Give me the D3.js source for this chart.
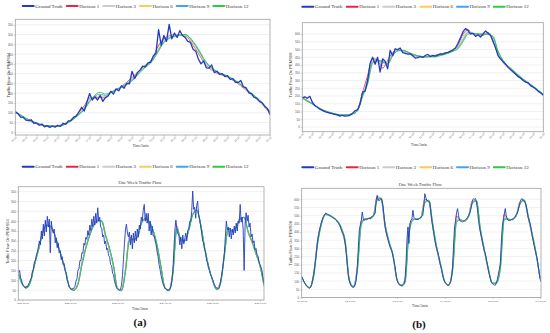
<!DOCTYPE html>
<html><head><meta charset="utf-8">
<script src="https://cdn.jsdelivr.net/npm/d3@7"></script>
<style>body{margin:0;background:#fff}svg{display:block}</style>
</head><body>
<svg id="chart" width="550" height="333"></svg>
<script>
// ---------- shared ----------
const seriesNames = ["Ground Truth","Horizon 1","Horizon 3","Horizon 6","Horizon 9","Horizon 12"];
const seriesColors = ["#1f3cc6","#e8264d","#cccccc","#ffc860","#45a2f5","#2ecc40"];
const hourTicks = [0,1,2,3,4,5,6,7,8,9,10,11,12,13,14,15,16,17,18,19,20,21,22,23,24];
const hourLabels = ["00:00","01:00","02:00","03:00","04:00","05:00","06:00","07:00","08:00","09:00","10:00","11:00","12:00","13:00","14:00","15:00","16:00","17:00","18:00","19:00","20:00","21:00","22:00","23:00","00:00"];
const yTicks04 = [0,50,100,150,200,250,300,350,400,450,500,550];
const yTicks08 = [0,50,100,150,200,250,300,350,400,450,500,550,600];
const weekTicks = [0,24,48,72,96,120];
const weekLabelsA = ["2/21 00:00","2/22 00:00","2/23 00:00","2/24 00:00","2/25 00:00","2/26 00:00"];
const weekLabelsB = ["7/1 00:00","7/2 00:00","7/3 00:00","7/4 00:00","7/5 00:00","7/6 00:00"];

// ---------- (a) top: one day PEMS04 (15-min ground truth) ----------
const dayGT04 = [105,95,78,76,62,60,64,46,48,36,42,28,34,25,32,26,36,30,46,40,
58,60,78,82,105,128,108,155,198,165,182,165,188,158,178,186,210,196,222,212,
238,225,250,248,312,275,305,318,338,335,355,358,390,405,525,445,495,465,552,478,
508,485,520,495,485,465,460,425,415,375,350,365,330,328,345,305,312,296,300,285,
290,270,275,255,255,265,232,228,202,198,178,175,158,152,132,122,90];
const dayKnots04 = [0,1,2,3,4,5,6,6.5,7,7.5,8,8.5,9,10,11,12,13,13.5,14,15,16,17,18,19,20,21,22,23,24];
const day04H1  = [103,67,44,31,33,56,102,135,175,176,178,176,202,234,280,332,385,445,478,498,492,425,342,303,282,248,203,158,98];
const day04H3  = [104,68,45,31,32,55,100,130,170,178,183,178,200,233,275,330,382,435,472,496,494,430,345,305,283,250,205,160,100];
const day04H6  = [105,70,46,32,32,53,97,125,165,180,188,182,203,232,272,327,378,428,468,495,497,437,350,307,285,252,207,162,102];
const day04H9  = [106,71,47,33,31,51,94,120,160,185,195,188,205,231,268,324,375,422,463,492,499,442,354,309,286,254,209,164,104];
const day04H12 = [107,72,48,33,30,49,90,115,155,190,205,195,205,230,263,320,370,415,458,490,500,447,358,311,288,256,211,166,106];

// ---------- (b) top: one day PEMS08 ----------
const dayGT08 = [188,195,185,198,160,138,128,115,108,100,95,90,86,82,78,70,76,71,72,76,
88,105,112,150,225,232,300,410,450,405,450,355,440,425,375,495,460,505,500,510,
480,475,470,472,460,445,448,455,450,462,468,455,462,458,465,472,470,478,482,490,
498,510,540,575,615,635,625,600,605,585,595,580,600,620,605,590,550,510,460,440,
420,405,385,370,355,340,325,315,300,290,285,265,258,245,230,220,205];
const dayKnots08 = [0,1,2,3,4,5,5.5,6,6.5,7,7.5,8,8.5,9,9.5,10,11,12,13,14,15,15.5,16,16.5,17,18,18.5,19,19.5,20,21,22,23,24];
const day08H1  = [190,152,108,86,74,88,112,222,330,440,435,380,430,480,500,490,465,450,460,474,495,525,600,625,600,592,610,565,465,418,358,302,258,208];
const day08H3  = [188,150,108,87,75,87,110,215,310,430,430,395,420,475,498,490,466,452,458,473,494,520,585,620,598,595,606,570,470,420,360,304,259,209];
const day08H6  = [187,150,110,88,76,86,108,205,295,425,425,410,415,470,495,492,468,453,456,470,492,515,570,615,600,597,603,575,480,425,362,306,261,210];
const day08H9  = [186,149,111,89,77,85,106,200,285,420,425,418,410,465,493,493,469,454,455,468,490,510,560,610,602,598,600,580,485,428,364,308,262,211];
const day08H12 = [185,148,112,90,78,84,104,195,275,410,430,425,405,460,490,495,470,455,452,465,488,505,550,600,603,600,598,585,490,430,366,310,263,212];

// ---------- (a) bottom: one week PEMS04 (30-min ground truth from -2h) ----------
const weekGT04 = [138,150,112,100,
80,72,66,60,70,66,82,88,104,110,148,152,196,200,230,245,270,300,280,350,310,385,325,405,345,425,370,410,240,400,360,340,360,290,315,265,290,240,250,205,220,180,185,150,135,100,88,68,
60,56,54,57,62,70,95,108,152,158,200,200,240,238,288,278,318,308,352,328,380,352,410,372,425,380,440,390,468,400,420,370,365,320,330,285,298,255,262,225,218,180,175,135,128,95,78,62,
55,52,50,53,75,125,205,285,355,385,340,320,345,280,330,260,340,290,350,300,360,320,380,360,420,400,455,485,400,440,390,440,350,400,330,375,325,325,300,280,245,220,180,155,125,102,82,70,
60,55,52,50,53,56,70,100,150,260,355,405,360,335,330,280,320,260,330,285,310,340,300,355,360,400,400,450,553,460,470,415,480,502,430,410,375,345,300,290,255,245,200,190,160,150,128,118,
105,90,78,68,60,57,55,62,90,119,150,190,238,320,400,355,368,320,365,310,360,330,375,340,390,350,400,390,485,395,420,360,150,390,443,400,430,370,390,320,335,290,300,255,262,230,225,195,
180,168,150,118,85];
const weekKnots04 = [-2,0,2,4,6,8,10,12,14,16,18,20,22,24,26,28,30,32,34,36,38,40,42,44,46,48,50,52,54,56,58,60,62,64,66,68,70,72,74,76,78,80,82,84,86,88,90,92,94,96,98,100,102,104,106,108,110,112,114,116,118,120,122];
const week04H1  = [135,80,66,98,185,255,340,380,372,335,272,205,132,62,55,85,188,268,332,382,405,398,322,255,168,60,52,158,318,305,318,392,415,395,350,272,162,64,52,150,375,302,300,358,438,455,380,262,168,106,60,90,235,360,350,372,415,418,342,292,232,172,88];
const week04H3  = [134,79,65,96,182,253,338,380,374,337,274,207,134,61,54,83,184,266,331,381,404,400,324,257,170,59,51,154,314,306,317,391,414,397,351,274,164,63,51,146,372,303,300,357,437,456,382,264,170,104,58,88,232,362,350,371,414,419,344,293,233,173,86];
const week04H6  = [133,78,63,94,179,251,337,379,375,338,275,208,135,60,52,81,181,265,330,380,403,401,326,258,171,58,49,150,310,307,316,389,413,398,352,276,166,61,49,142,368,305,299,355,435,457,384,266,172,102,56,85,228,364,349,370,413,420,346,295,235,174,80];
const week04H9  = [132,77,62,92,177,250,336,379,376,339,276,210,136,59,50,80,178,264,329,379,403,402,328,260,173,57,48,145,305,308,315,387,412,399,353,278,168,60,48,136,364,307,299,354,433,457,386,268,174,101,54,83,224,366,349,369,412,420,348,296,236,175,75];
const week04H12 = [130,76,60,90,175,250,335,378,377,340,278,212,138,58,48,78,175,262,328,378,402,402,330,262,175,56,46,140,300,310,315,385,410,400,355,280,170,58,46,130,360,310,298,352,430,458,388,270,175,100,52,80,220,370,348,368,410,420,350,298,238,176,70];

// ---------- (b) bottom: one week PEMS08 (30-min ground truth from 0h) ----------
const weekGT08 = [128,115,100,88,78,70,64,60,58,62,80,108,140,185,230,290,345,385,413,440,462,482,494,505,515,512,508,505,500,497,493,488,485,482,476,470,462,455,445,430,413,395,385,360,320,260,190,130,
100,82,70,64,62,65,80,110,185,300,410,441,470,522,480,470,478,472,480,482,485,480,492,495,500,505,515,590,624,595,590,600,604,590,553,490,431,400,375,350,330,310,295,280,250,220,187,140,
106,90,80,75,72,70,72,80,106,200,350,431,330,450,472,480,533,490,482,478,476,476,480,485,490,495,502,560,634,610,593,590,585,583,520,472,430,390,350,320,295,278,250,215,190,167,135,110,
96,88,80,75,74,85,96,130,187,330,431,470,520,543,500,472,468,465,461,465,470,475,482,490,500,512,530,560,593,604,600,604,583,540,472,430,400,370,340,310,280,268,230,200,167,140,115,95,
85,80,76,75,90,110,140,170,200,330,431,470,510,543,500,480,472,470,472,476,478,482,488,492,505,515,533,560,585,600,604,593,590,580,563,530,490,470,451,420,380,350,320,290,265,240,200,160,
116,96];
const weekKnots08 = [0,2,4,6,8,10,12,14,16,18,20,22,24,26,28,30,32,34,36,38,40,42,44,46,48,50,52,54,56,58,60,62,64,66,68,70,72,74,76,78,80,82,84,86,88,90,92,94,96,98,100,102,104,106,108,110,112,114,116,118,120];
const week08H1  = [128,78,58,145,350,460,512,500,485,462,412,318,100,63,190,468,478,485,500,615,598,430,330,250,106,72,110,418,480,476,490,598,585,430,295,190,96,74,190,498,468,470,500,592,582,400,280,167,85,90,205,508,472,478,505,584,590,490,380,265,116];
const week08H3  = [127,79,59,142,345,458,511,501,486,463,414,322,102,64,182,462,479,484,499,610,600,435,333,252,107,73,104,410,478,477,489,594,587,434,298,192,97,75,182,490,470,469,498,590,585,405,283,169,86,89,196,500,474,477,503,582,592,494,383,267,117];
const week08H6  = [126,80,60,136,338,455,509,502,487,465,418,328,105,66,175,455,480,483,497,604,603,440,336,255,108,74,98,400,476,478,488,588,590,440,302,196,98,76,175,480,472,468,496,585,588,410,287,172,87,88,188,490,476,476,501,578,594,498,387,270,118];
const week08H9  = [125,81,61,130,330,452,507,503,488,467,422,334,108,67,168,448,481,482,495,598,606,446,340,258,110,75,94,392,474,479,487,582,592,446,306,200,99,77,168,470,474,467,494,580,590,415,291,175,88,87,180,482,478,475,499,574,596,502,391,273,119];
const week08H12 = [124,82,62,124,322,448,505,504,490,470,426,340,110,68,160,440,482,481,493,592,608,452,345,262,112,76,90,384,472,480,486,576,595,452,310,205,100,78,160,460,476,466,492,575,592,420,295,178,89,86,172,474,480,474,497,570,598,506,395,276,120];

// ---------- drawing ----------
const svg = d3.select("#chart");
const SERIF = "'Liberation Serif','Times New Roman',serif";
const SANS = "'Liberation Sans',Arial,sans-serif";

function drawPanel(p){
  const g = svg.append("g");
  const x = d3.scaleLinear().domain(p.xDomain).range([p.x0, p.x1]);
  const y = d3.scaleLinear().domain(p.yDomain).range([p.y1, p.y0]);
  const cid = "clip-" + p.id;
  svg.append("clipPath").attr("id", cid).append("rect")
    .attr("x", p.x0).attr("y", p.y0).attr("width", p.x1 - p.x0).attr("height", p.y1 - p.y0);

  g.append("rect").attr("x", p.x0).attr("y", p.y0).attr("width", p.x1 - p.x0).attr("height", p.y1 - p.y0)
    .attr("fill", "#fff");
  g.append("g").selectAll("line").data(p.yTicks).join("line")
    .attr("x1", p.x0).attr("x2", p.x1).attr("y1", d => y(d)).attr("y2", d => y(d))
    .attr("stroke", "#e2e2e2").attr("stroke-width", 0.5);

  const ya = g.append("g").attr("transform", `translate(${p.x0},0)`)
    .call(d3.axisLeft(y).tickValues(p.yTicks).tickSize(1.5).tickPadding(1));
  ya.select(".domain").remove();
  ya.selectAll("line").attr("stroke", "#888").attr("stroke-width", 0.4);
  ya.selectAll("text").attr("font-size", 2.9).attr("font-family", SANS).attr("fill", "#555");

  const xa = g.append("g").attr("transform", `translate(0,${p.y1})`)
    .call(d3.axisBottom(x).tickValues(p.xTicks).tickFormat((d, i) => p.xLabels[i]).tickSize(1.5).tickPadding(1));
  xa.select(".domain").remove();
  xa.selectAll("line").attr("stroke", "#888").attr("stroke-width", 0.4);
  const xt = xa.selectAll("text").attr("font-family", SANS).attr("fill", "#555");
  if (p.rotate) {
    xt.attr("font-size", 2.6).attr("y", 0).attr("dy", 0).attr("text-anchor", "end")
      .attr("transform", "translate(1.2,2.6) rotate(-45)");
  } else {
    xt.attr("font-size", 2.5).attr("y", p.xLabelDy).attr("dy", "0.35em");
  }

  const lines = g.append("g").attr("clip-path", `url(#${cid})`);
  p.horizons.forEach((arr, k) => {
    lines.append("path").datum(arr)
      .attr("d", d3.line().x((d, i) => x(p.knots[i])).y(d => y(d)).curve(d3.curveMonotoneX))
      .attr("fill", "none").attr("stroke", seriesColors[k + 1]).attr("stroke-width", 0.9)
      .attr("stroke-linejoin", "round");
  });
  lines.append("path").datum(p.gt)
    .attr("d", d3.line().x((d, i) => x(p.gtStart + i * p.gtStep)).y(d => y(d)))
    .attr("fill", "none").attr("stroke", seriesColors[0]).attr("stroke-width", p.gtWidth)
    .attr("stroke-linejoin", "round");

  g.append("rect").attr("x", p.x0).attr("y", p.y0).attr("width", p.x1 - p.x0).attr("height", p.y1 - p.y0)
    .attr("fill", "none").attr("stroke", "#a0a0a0").attr("stroke-width", 0.8);

  // legend
  const lg = g.append("g");
  seriesNames.forEach((name, k) => {
    const lx = p.legendX[k];
    lg.append("line").attr("x1", lx).attr("x2", lx + 11).attr("y1", p.legendY).attr("y2", p.legendY)
      .attr("stroke", seriesColors[k]).attr("stroke-width", 2).attr("stroke-linecap", "round");
    lg.append("text").attr("x", lx + 12.5).attr("y", p.legendY).attr("dy", "0.35em")
      .attr("font-family", SERIF).attr("font-size", 5).attr("fill", "#333").text(name);
  });

  if (p.title) {
    g.append("text").attr("x", p.titleX).attr("y", p.titleY).attr("dy", "0.35em")
      .attr("text-anchor", "middle").attr("font-family", SERIF).attr("font-size", 4.6)
      .attr("fill", "#333").text(p.title);
  }
  g.append("text").attr("x", p.xTitleX).attr("y", p.xTitleY).attr("dy", "0.35em")
    .attr("text-anchor", "middle").attr("font-family", SERIF).attr("font-size", 3.6)
    .attr("fill", "#333").text("Time/5min");
  g.append("text").attr("transform", `translate(${p.yTitleX},${p.yTitleY}) rotate(-90)`)
    .attr("dy", "0.35em").attr("text-anchor", "middle").attr("font-family", SANS)
    .attr("font-size", 4.1).attr("fill", "#444").text(p.yTitle);
}

const legendXA = [22.7, 66.7, 103.3, 140, 176.7, 213.3];
const legendXB = [302.3, 346.7, 383.3, 420.3, 457, 493.7];

drawPanel({id:"tl", x0:15.3, x1:270, y0:19.3, y1:135, xDomain:[0,24], yDomain:[-14,578],
  yTicks:yTicks04, xTicks:hourTicks, xLabels:hourLabels, rotate:true,
  gt:dayGT04, gtStart:0, gtStep:0.25, gtWidth:1.3,
  knots:dayKnots04, horizons:[day04H1,day04H3,day04H6,day04H9,day04H12],
  legendX:legendXA, legendY:6,
  xTitleX:140.7, xTitleY:146, yTitleX:9, yTitleY:75, yTitle:"Traffic Flow On PEMS04"});

drawPanel({id:"tr", x0:302.3, x1:543.3, y0:22.7, y1:131.7, xDomain:[0,24], yDomain:[-30,673],
  yTicks:yTicks08, xTicks:hourTicks, xLabels:hourLabels, rotate:true,
  gt:dayGT08, gtStart:0, gtStep:0.25, gtWidth:1.3,
  knots:dayKnots08, horizons:[day08H1,day08H3,day08H6,day08H9,day08H12],
  legendX:legendXB, legendY:6.7,
  xTitleX:419, xTitleY:145, yTitleX:291, yTitleY:75, yTitle:"Traffic Flow On PEMS08"});

drawPanel({id:"bl", x0:18.3, x1:264, y0:186.7, y1:300, xDomain:[-2.16,122.04], yDomain:[0,575],
  yTicks:yTicks04, xTicks:weekTicks, xLabels:weekLabelsA, rotate:false, xLabelDy:3.5,
  gt:weekGT04, gtStart:-2, gtStep:0.5, gtWidth:0.9,
  knots:weekKnots04, horizons:[week04H1,week04H3,week04H6,week04H9,week04H12],
  legendX:legendXA, legendY:166.7, title:"One Week Traffic Flow", titleX:140, titleY:182.3,
  xTitleX:140, xTitleY:309, yTitleX:7.3, yTitleY:241.7, yTitle:"Traffic Flow On PEMS04"});

drawPanel({id:"br", x0:301.7, x1:541, y0:188.3, y1:297.5, xDomain:[0,120.5], yDomain:[0,667],
  yTicks:yTicks08, xTicks:weekTicks, xLabels:weekLabelsB, rotate:false, xLabelDy:3.5,
  gt:weekGT08, gtStart:0, gtStep:0.5, gtWidth:0.9,
  knots:weekKnots08, horizons:[week08H1,week08H3,week08H6,week08H9,week08H12],
  legendX:legendXB, legendY:167.3, title:"One Week Traffic Flow", titleX:420.3, titleY:184.3,
  xTitleX:420, xTitleY:305.7, yTitleX:291, yTitleY:243.3, yTitle:"Traffic Flow On PEMS08"});

svg.append("text").attr("x", 140).attr("y", 322.3).attr("dy", "0.35em").attr("text-anchor", "middle")
  .attr("font-family", SERIF).attr("font-weight", "bold").attr("font-size", 11).attr("fill", "#111").text("(a)");
svg.append("text").attr("x", 419).attr("y", 324).attr("dy", "0.35em").attr("text-anchor", "middle")
  .attr("font-family", SERIF).attr("font-weight", "bold").attr("font-size", 11).attr("fill", "#111").text("(b)");
</script>
</body></html>
